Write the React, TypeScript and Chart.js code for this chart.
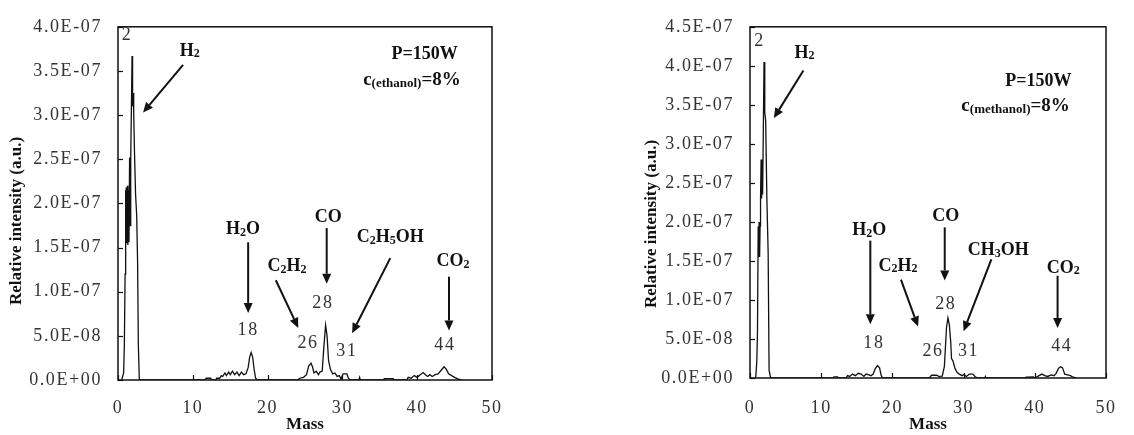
import React, { useEffect, useRef } from 'react';
import { Chart, registerables } from 'chart.js';

Chart.register(...registerables);

// ---------- data (intensity in units of 1e-8 a.u.) ----------
const UNIT = 1e-8;
const massTicks = [0, 10, 20, 30, 40, 50];

const ethanolSpectrum: [number, number][] = [
  [0.5, 0], [0.75, 0.8], [0.85, 4], [0.95, 12], [1.0, 21.5], [1.05, 15.2], [1.1, 21.8], [1.18, 15.5],
  [1.25, 22], [1.32, 15.3], [1.4, 21.5], [1.47, 15.6], [1.55, 25.2], [1.62, 17.5], [1.7, 25], [1.78, 30],
  [1.88, 36.7], [1.95, 31], [2.02, 32.5], [2.1, 30.3], [2.2, 26], [2.35, 21], [2.5, 18.6], [2.62, 13.3],
  [2.72, 4], [2.85, 0],
  [11.6, 0], [11.8, 0.2], [12.4, 0.2], [12.5, 0], [13.1, 0], [13.2, 0.2], [13.6, 0.2], [13.8, 0.5],
  [14.0, 0.4], [14.3, 0.8], [14.5, 0.5], [14.8, 0.9], [15.0, 0.6], [15.3, 1.0], [15.6, 0.6], [15.9, 0.9],
  [16.2, 0.5], [16.5, 0.9], [16.8, 0.6], [17.1, 0.7], [17.4, 1.4], [17.6, 2.6], [17.8, 3.1], [18.0, 2.6],
  [18.2, 1.2], [18.4, 0.2], [18.6, 0],
  [24.0, 0], [24.3, 0.2], [24.8, 0.3], [25.2, 0.6], [25.5, 1.6], [25.8, 1.9], [26.0, 1.5], [26.2, 0.8],
  [26.5, 1.0], [26.8, 0.6], [27.0, 0.9], [27.3, 1.0], [27.5, 3.5], [27.75, 6.2], [27.95, 5.0], [28.15, 2.2],
  [28.4, 1.2], [28.7, 0.7], [29.0, 0.8], [29.3, 0.4], [29.6, 0.5], [29.8, 0.1], [30.1, 0.7], [30.6, 0.7],
  [30.8, 0.2], [31.0, 0],
  [32.2, 0], [32.3, 0.3], [32.4, 0],
  [35.5, 0], [35.6, 0.15], [36.8, 0.15], [36.9, 0],
  [38.6, 0], [38.8, 0.3], [39.2, 0.2], [39.6, 0.5], [40.0, 0.3], [40.4, 0.6], [40.8, 0.85], [41.1, 0.6],
  [41.4, 0.4], [41.7, 0.6], [42.0, 0.4], [42.4, 0.6], [42.8, 0.7], [43.2, 1.1], [43.6, 1.5], [43.9, 1.2],
  [44.2, 0.7], [44.6, 0.5], [45.0, 0.3], [45.5, 0.1], [46.0, 0],
];

const methanolSpectrum: [number, number][] = [
  [0.8, 0], [0.95, 2], [1.05, 5.8], [1.15, 19.4], [1.22, 15.5], [1.28, 20], [1.35, 15.5], [1.42, 19.5],
  [1.48, 23], [1.56, 28], [1.63, 23], [1.7, 28], [1.77, 23.5], [1.85, 30], [1.97, 40.5], [2.05, 37],
  [2.1, 34], [2.2, 33], [2.37, 23], [2.55, 16], [2.68, 1], [2.9, 0],
  [11.6, 0], [11.8, 0.15], [12.3, 0.15], [12.4, 0], [13.5, 0], [13.7, 0.3], [14.0, 0.2], [14.4, 0.5],
  [14.8, 0.3], [15.2, 0.6], [15.6, 0.5], [16.0, 0.2], [16.3, 0.5], [16.7, 0.4], [17.0, 0.3], [17.3, 0.5],
  [17.6, 1.2], [17.9, 1.6], [18.2, 1.3], [18.4, 0.4], [18.6, 0],
  [25.2, 0], [25.5, 0.35], [26.2, 0.35], [26.5, 0.2], [27.0, 0.25], [27.3, 1.5], [27.6, 6.5], [27.8, 7.7],
  [28.0, 6.8], [28.2, 4.5], [28.3, 2.5], [28.5, 2.2], [28.8, 1.2], [29.1, 0.7], [29.4, 0.5], [29.8, 0.3],
  [30.0, 0.45], [30.4, 0.2], [30.8, 0.5], [31.3, 0.5], [31.6, 0.2], [31.9, 0],
  [33.0, 0], [33.05, 0.15], [33.1, 0],
  [38.5, 0], [38.8, 0.1], [39.8, 0.15], [40.0, 0], [40.6, 0.3], [41.0, 0.5], [41.4, 0.3], [41.8, 0.2],
  [42.3, 0.4], [42.7, 0.3], [43.0, 0.6], [43.3, 1.2], [43.6, 1.45], [43.9, 1.3], [44.2, 0.5], [44.6, 0.4],
  [45.0, 0.3], [45.4, 0.1], [45.8, 0],
];

type Anchor = { text: string; mass: number; value: number };
type Arrow = { from: [number, number]; to: [number, number] };

const ethanolFormulas: Anchor[] = [
  { text: 'H_2', mass: 9.6, value: 37.4 },
  { text: 'H_2O', mass: 16.7, value: 17.2 },
  { text: 'C_2H_2', mass: 22.6, value: 13.0 },
  { text: 'CO', mass: 28.1, value: 18.6 },
  { text: 'C_2H_5OH', mass: 36.4, value: 16.3 },
  { text: 'CO_2', mass: 44.8, value: 13.6 },
];
const ethanolPeaks: Anchor[] = [
  { text: '2', mass: 1.2, value: 39 },
  { text: '18', mass: 17.4, value: 5.6 },
  { text: '26', mass: 25.4, value: 4.2 },
  { text: '28', mass: 27.4, value: 8.7 },
  { text: '31', mass: 30.6, value: 3.3 },
  { text: '44', mass: 43.7, value: 3.9 },
];
const ethanolArrows: Arrow[] = [
  { from: [8.7, 35.7], to: [3.35, 30.3] },
  { from: [17.4, 15.6], to: [17.4, 7.6] },
  { from: [21.1, 11.3], to: [24.1, 5.9] },
  { from: [27.9, 17.2], to: [27.9, 10.9] },
  { from: [36.4, 13.8], to: [31.3, 5.3] },
  { from: [44.25, 11.7], to: [44.25, 5.6] },
];
const ethanolNotes: Anchor[] = [
  { text: 'P=150W', mass: 41.0, value: 37.0 },
  { text: 'c{(ethanol)}=8%', mass: 39.3, value: 34.1 },
];

const methanolFormulas: Anchor[] = [
  { text: 'H_2', mass: 7.64, value: 41.8 },
  { text: 'H_2O', mass: 16.75, value: 19.1 },
  { text: 'C_2H_2', mass: 20.8, value: 14.5 },
  { text: 'CO', mass: 27.5, value: 20.9 },
  { text: 'CH_3OH', mass: 34.85, value: 16.5 },
  { text: 'CO_2', mass: 44.0, value: 14.3 },
];
const methanolPeaks: Anchor[] = [
  { text: '2', mass: 1.35, value: 43.1 },
  { text: '18', mass: 17.4, value: 4.4 },
  { text: '26', mass: 25.7, value: 3.4 },
  { text: '28', mass: 27.5, value: 9.4 },
  { text: '31', mass: 30.7, value: 3.4 },
  { text: '44', mass: 43.8, value: 4.1 },
];
const methanolArrows: Arrow[] = [
  { from: [7.5, 39.4], to: [3.35, 33.3] },
  { from: [16.9, 17.6], to: [16.9, 6.9] },
  { from: [21.2, 12.6], to: [23.6, 6.6] },
  { from: [27.35, 19.3], to: [27.35, 12.5] },
  { from: [33.9, 15.2], to: [30.0, 6.0] },
  { from: [43.2, 13.1], to: [43.2, 6.4] },
];
const methanolNotes: Anchor[] = [
  { text: 'P=150W', mass: 40.5, value: 38.2 },
  { text: 'c{(methanol)}=8%', mass: 37.3, value: 35.0 },
];

// ---------- helpers ----------
const SERIF = '"Liberation Serif", "Times New Roman", serif';
const NUMFONT = '"Liberation Serif", "Times New Roman", serif';
const NUM_SPACING = '1.6px';

function fmtExp(v: number): string {
  if (Math.abs(v) < 1e-15) return '0.0E+00';
  const [m, e] = v.toExponential(1).split('e');
  const n = parseInt(e, 10);
  return m + 'E' + (n < 0 ? '-' : '+') + String(Math.abs(n)).padStart(2, '0');
}

type Tok = { t: string; small: boolean };
function tokenize(s: string): Tok[] {
  const out: Tok[] = [];
  let i = 0;
  while (i < s.length) {
    const c = s[i];
    if (c === '_') { out.push({ t: s[i + 1], small: true }); i += 2; continue; }
    if (c === '{') {
      const j = s.indexOf('}', i);
      out.push({ t: s.slice(i + 1, j), small: true });
      i = j + 1; continue;
    }
    const last = out[out.length - 1];
    if (last && !last.small) last.t += c; else out.push({ t: c, small: false });
    i++;
  }
  return out;
}

function drawRich(ctx: CanvasRenderingContext2D, s: string, cx: number, cy: number, big: number, small: number) {
  const toks = tokenize(s);
  const fb = `bold ${big}px ${SERIF}`;
  const fs = `bold ${small}px ${SERIF}`;
  let w = 0;
  const widths = toks.map((tk) => { ctx.font = tk.small ? fs : fb; const ww = ctx.measureText(tk.t).width; w += ww; return ww; });
  let x = cx - w / 2;
  const base = cy + big * 0.34;
  ctx.textAlign = 'left';
  ctx.textBaseline = 'alphabetic';
  toks.forEach((tk, k) => {
    ctx.font = tk.small ? fs : fb;
    ctx.fillText(tk.t, x, base + (tk.small ? 1.5 : 0));
    x += widths[k];
  });
}

type Cfg = {
  left: number;
  spectrum: [number, number][];
  yMax: number;
  pad: { top: number; right: number };
  yAxisWidth: number;
  xAxisHeight: number;
  xLabelPad: number;
  yTitle: [number, number];
  formulas: Anchor[];
  peaks: Anchor[];
  arrows: Arrow[];
  notes: Anchor[];
};

const charts: Cfg[] = [
  {
    left: 0, spectrum: ethanolSpectrum, yMax: 40, pad: { top: 20, right: 75 }, yAxisWidth: 118, xAxisHeight: 55,
    xLabelPad: 17, yTitle: [17, 221], formulas: ethanolFormulas, peaks: ethanolPeaks, arrows: ethanolArrows, notes: ethanolNotes,
  },
  {
    left: 567, spectrum: methanolSpectrum, yMax: 45, pad: { top: 17, right: 11 }, yAxisWidth: 183, xAxisHeight: 57,
    xLabelPad: 19, yTitle: [85, 224], formulas: methanolFormulas, peaks: methanolPeaks, arrows: methanolArrows, notes: methanolNotes,
  },
];

function SpectrumChart({ cfg }: { cfg: Cfg }) {
  const ref = useRef<HTMLCanvasElement>(null);
  useEffect(() => {
    const spacing = {
      id: 'spacing',
      beforeDraw(chart: any) {
        (chart.ctx as any).letterSpacing = NUM_SPACING;
      },
    };
    const deco = {
      id: 'deco',
      afterDraw(chart: any) {
        const ctx: CanvasRenderingContext2D = chart.ctx;
        const { left, right, top, bottom } = chart.chartArea;
        const xs = chart.scales.x;
        const ys = chart.scales.y;
        const px = (m: number) => xs.getPixelForValue(m);
        const py = (v: number) => ys.getPixelForValue(v * UNIT);
        ctx.save();
        (ctx as any).letterSpacing = '0px';
        // frame
        ctx.strokeStyle = '#111';
        ctx.lineWidth = 1.5;
        ctx.strokeRect(left, top, right - left, bottom - top);
        // inward ticks
        ctx.lineWidth = 1.2;
        ys.ticks.forEach((t: any) => {
          const y = Math.round(ys.getPixelForValue(t.value)) + 0.5;
          ctx.beginPath(); ctx.moveTo(left, y); ctx.lineTo(left + 5, y); ctx.stroke();
        });
        xs.ticks.forEach((t: any) => {
          const x = Math.round(xs.getPixelForValue(t.value)) + 0.5;
          ctx.beginPath(); ctx.moveTo(x, bottom); ctx.lineTo(x, bottom - 5); ctx.stroke();
        });
        // axis titles
        ctx.fillStyle = '#111';
        ctx.font = `bold 17px ${SERIF}`;
        ctx.textAlign = 'center';
        ctx.textBaseline = 'middle';
        ctx.fillText('Mass', (left + right) / 2, 425);
        ctx.save();
        ctx.translate(cfg.yTitle[0], cfg.yTitle[1]);
        ctx.rotate(-Math.PI / 2);
        ctx.fillText('Relative intensity (a.u.)', 0, 0);
        ctx.restore();
        // arrows
        ctx.strokeStyle = '#111';
        ctx.fillStyle = '#111';
        ctx.lineWidth = 2;
        cfg.arrows.forEach((a) => {
          const x1 = px(a.from[0]), y1 = py(a.from[1]);
          const x2 = px(a.to[0]), y2 = py(a.to[1]);
          const ang = Math.atan2(y2 - y1, x2 - x1);
          const hl = 10, hw = 4.5;
          const bx = x2 - hl * Math.cos(ang), by = y2 - hl * Math.sin(ang);
          ctx.beginPath(); ctx.moveTo(x1, y1); ctx.lineTo(bx, by); ctx.stroke();
          ctx.beginPath();
          ctx.moveTo(x2, y2);
          ctx.lineTo(bx + hw * Math.sin(ang), by - hw * Math.cos(ang));
          ctx.lineTo(bx - hw * Math.sin(ang), by + hw * Math.cos(ang));
          ctx.closePath(); ctx.fill();
        });
        // formula labels
        cfg.formulas.forEach((a) => drawRich(ctx, a.text, px(a.mass), py(a.value), 18, 12));
        cfg.notes.forEach((a, i) => drawRich(ctx, a.text, px(a.mass), py(a.value), i === 0 ? 18 : 19, 13));
        // peak numbers
        (ctx as any).letterSpacing = NUM_SPACING;
        ctx.fillStyle = '#333';
        ctx.font = `18px ${NUMFONT}`;
        ctx.textAlign = 'center';
        ctx.textBaseline = 'middle';
        cfg.peaks.forEach((a) => ctx.fillText(a.text, px(a.mass), py(a.value)));
        ctx.restore();
      },
    };

    const chart = new Chart(ref.current as HTMLCanvasElement, {
      type: 'line',
      data: {
        datasets: [
          {
            data: cfg.spectrum.map(([m, v]) => ({ x: m, y: v * UNIT })),
            borderColor: '#111',
            borderWidth: 1.3,
            pointRadius: 0,
            tension: 0,
            fill: false,
          },
        ],
      },
      options: {
        responsive: false,
        animation: false,
        devicePixelRatio: 1,
        layout: { padding: { top: cfg.pad.top, right: cfg.pad.right, left: 0, bottom: 0 } },
        plugins: { legend: { display: false }, tooltip: { enabled: false } },
        scales: {
          x: {
            type: 'linear',
            min: massTicks[0],
            max: massTicks[massTicks.length - 1],
            afterBuildTicks: (s: any) => { s.ticks = massTicks.map((v) => ({ value: v })); },
            grid: { display: false, drawTicks: false },
            border: { display: false },
            ticks: {
              padding: cfg.xLabelPad,
              color: '#333',
              font: { family: NUMFONT, size: 18 },
              maxRotation: 0,
              autoSkip: false,
              callback: (v: any) => String(v),
            },
            afterFit: (s: any) => { s.height = cfg.xAxisHeight; },
          },
          y: {
            type: 'linear',
            min: 0,
            max: cfg.yMax * UNIT,
            grid: { display: false, drawTicks: false },
            border: { display: false },
            ticks: {
              stepSize: 5 * UNIT,
              padding: 16,
              color: '#333',
              font: { family: NUMFONT, size: 18 },
              autoSkip: false,
              callback: (v: any) => fmtExp(Number(v)),
            },
            afterFit: (s: any) => { s.width = cfg.yAxisWidth; },
          },
        },
      },
      plugins: [spacing, deco],
    } as any);
    return () => chart.destroy();
  }, [cfg]);
  return (
    <canvas
      ref={ref}
      width={567}
      height={435}
      style={{ position: 'absolute', left: cfg.left, top: 0, width: 567, height: 435 }}
    />
  );
}

export default function App() {
  return (
    <div style={{ position: 'fixed', left: 0, top: 0, width: 1134, height: 435, background: '#fff', overflow: 'hidden' }}>
      {charts.map((c, i) => (
        <SpectrumChart key={i} cfg={c} />
      ))}
    </div>
  );
}
